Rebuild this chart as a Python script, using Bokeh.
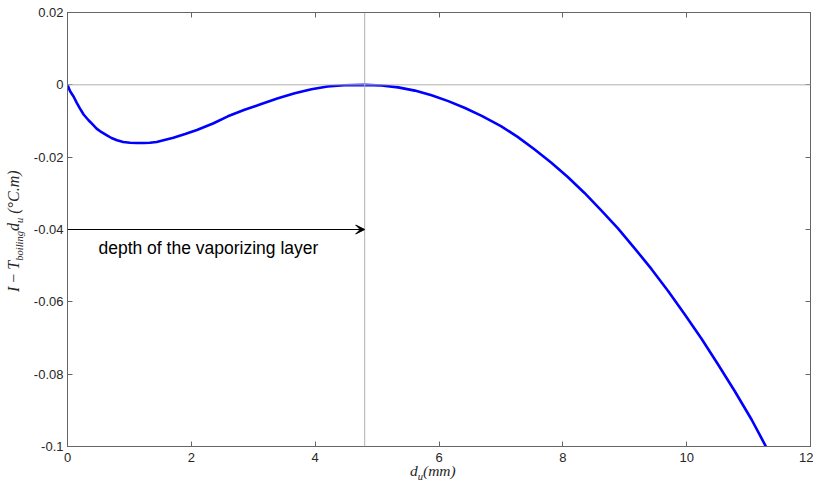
from bokeh.plotting import figure
from bokeh.layouts import row, column
from bokeh.models import FixedTicker, LinearAxis, Span, Arrow, VeeHead, Label, Range1d, Div
from bokeh.embed import file_html
from bokeh.resources import INLINE

# ---- data ----
du_mm = [0.0, 0.04, 0.10, 0.15, 0.20, 0.26, 0.34, 0.41, 0.47, 0.55, 0.63, 0.71,
         0.80, 0.90, 1.01, 1.12, 1.23, 1.33, 1.44, 1.55, 1.71, 1.90, 2.09, 2.25,
         2.35, 2.59, 2.86, 3.13, 3.40, 3.67, 3.94, 4.20, 4.47, 4.80, 5.07, 5.34,
         5.61, 5.88, 6.15, 6.42, 6.69, 7.00, 7.27, 7.54, 7.81, 8.08, 8.35, 8.62,
         8.89, 9.16, 9.43, 9.70, 9.97, 10.24, 10.51, 10.78, 11.05, 11.28]
energy = [0.0, -0.0017, -0.0033, -0.0050, -0.0065, -0.0082, -0.0098, -0.0110,
          -0.0121, -0.0131, -0.0139, -0.0147, -0.0153, -0.0158, -0.0160, -0.0161,
          -0.0161, -0.0160, -0.0158, -0.0153, -0.0146, -0.0136, -0.0125, -0.0114,
          -0.0107, -0.0087, -0.0069, -0.0053, -0.0037, -0.0023, -0.0012, -0.00045,
          -0.0001, 0.0, -0.0002, -0.0007, -0.0016, -0.0029, -0.0045, -0.0064,
          -0.0086, -0.0114, -0.0144, -0.0178, -0.0215, -0.0255, -0.0299, -0.0347,
          -0.0397, -0.0452, -0.0509, -0.0570, -0.0635, -0.0702, -0.0774, -0.0848,
          -0.0926, -0.1000]

x_ticks = [0, 2, 4, 6, 8, 10, 12]
x_tick_labels = ["0", "2", "4", "6", "8", "10", "12"]
y_ticks = [-0.1, -0.08, -0.06, -0.04, -0.02, 0.0, 0.02]
y_tick_labels = ["-0.1", "-0.08", "-0.06", "-0.04", "-0.02", "0", "0.02"]

layer_depth = 4.8
zero_level = 0.0
arrow_level = -0.04
annotation_text = "depth of the vaporizing layer"
annotation_x = 0.5
annotation_y = -0.0452

AX = "#666666"
TXT = "#262626"

p = figure(width=783, height=465, x_range=Range1d(0, 12), y_range=Range1d(-0.1, 0.02),
           output_backend="svg", toolbar_location=None,
           min_border_left=36, min_border_right=3, min_border_top=12, min_border_bottom=19)
p.background_fill_color = "white"
p.border_fill_color = "white"
p.outline_line_color = AX
p.outline_line_width = 1
p.xgrid.visible = False
p.ygrid.visible = False


def style_axis(ax, ticks, labels, show):
    ax.ticker = FixedTicker(ticks=ticks)
    ax.major_label_overrides = {t: l for t, l in zip(ticks, labels)}
    ax.major_tick_in = 5
    ax.major_tick_out = 0
    ax.minor_tick_line_color = None
    ax.axis_line_color = AX
    ax.major_tick_line_color = AX
    ax.major_label_text_font = "Liberation Sans"
    ax.major_label_text_font_size = "13px"
    if show:
        ax.major_label_text_color = TXT
    else:
        ax.major_label_text_color = None
        ax.major_label_standoff = 0


style_axis(p.xaxis[0], x_ticks, x_tick_labels, True)
style_axis(p.yaxis[0], y_ticks, y_tick_labels, True)
p.xaxis[0].major_label_standoff = 6
p.yaxis[0].major_label_standoff = 4

top = LinearAxis()
style_axis(top, x_ticks, x_tick_labels, False)
p.add_layout(top, "above")
right = LinearAxis()
style_axis(right, y_ticks, y_tick_labels, False)
p.add_layout(right, "right")

p.add_layout(Span(location=zero_level, dimension="width", line_color="#b0b0b0", line_width=1))
p.add_layout(Span(location=layer_depth, dimension="height", line_color="#b0b0b0", line_width=1))

p.line(du_mm, energy, line_color="#0000ff", line_width=2.6, line_join="round")

p.add_layout(Arrow(x_start=0, y_start=arrow_level, x_end=layer_depth, y_end=arrow_level,
                   line_color="black", line_width=1.2,
                   end=VeeHead(size=9, fill_color="black", line_color="black")))

p.add_layout(Label(x=annotation_x, y=annotation_y, text=annotation_text,
                   text_font="Liberation Sans", text_font_size="17.5px",
                   text_color="black", text_baseline="middle", text_align="left"))

SERIF_CSS = "font-family:'Liberation Serif',serif;font-style:italic;color:#262626;white-space:nowrap;"
SUB = "font-size:10.5px;line-height:0;"

ylabel_html = (
    '<div style="position:relative;width:30px;height:465px;">'
    '<div style="position:absolute;left:5px;top:292px;transform:rotate(-90deg);'
    'transform-origin:left top;font-size:16px;line-height:18px;' + SERIF_CSS + '">'
    'I<span style="font-style:normal;margin:0 4px;">\u2212</span>T'
    '<sub style="' + SUB + '">boiling</sub>d<sub style="' + SUB + '">u</sub>'
    '&nbsp;(\u00b0C.m)</div></div>'
)
xlabel_html = (
    '<div style="position:relative;width:813px;height:22px;">'
    '<div style="position:absolute;left:410px;top:1px;font-size:15.5px;line-height:10px;'
    + SERIF_CSS + '">d<sub style="' + SUB + '">u</sub>(mm)</div></div>'
)

ydiv = Div(text=ylabel_html, width=30, height=465, margin=(0, 0, 0, 0))
xdiv = Div(text=xlabel_html, width=813, height=22, margin=(0, 0, 0, 0))

layout = column(row(ydiv, p, spacing=0), xdiv, spacing=0)

open("out.html", "w").write(file_html(layout, INLINE))
